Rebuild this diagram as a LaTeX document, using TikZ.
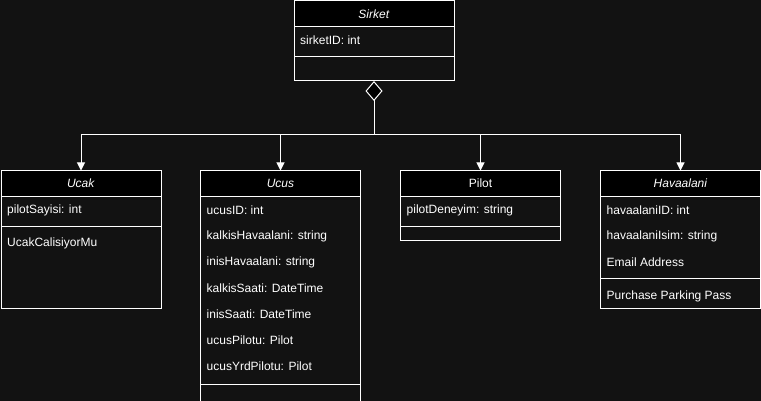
\documentclass[tikz,border=0pt]{standalone}
\usepackage{fontspec}
\setmainfont{Liberation Sans}
\usetikzlibrary{positioning,arrows.meta}
\definecolor{canvas}{HTML}{121212}

\begin{document}
\begin{tikzpicture}[
        x=1pt, y=-1pt,
        font=\fontsize{12}{14}\selectfont,
        header/.style={rectangle, draw=white, fill=black, text=white, line width=1pt, minimum width=160pt, minimum height=26pt, inner sep=0pt, outer sep=0pt},
        compart/.style={rectangle, draw=white, fill=canvas, line width=1pt, minimum width=160pt, inner sep=0pt, outer sep=0pt},
        member/.style={text=white, anchor=west, inner sep=0pt},
        link/.style={draw=white, line width=1pt, -{Triangle[width=8pt,length=8pt]}},
        agg/.style={draw=white, line width=1pt, {Diamond[fill=black,width=17pt,length=20pt]}-}
    ]
        \useasboundingbox[fill=canvas] (0,0) rectangle (761,401);

        % Nodes
        \node[header] (sirket) at (374,14) {\textit{Sirket}};
        \node[compart, minimum height=30pt, below=0pt of sirket] (sirketA) {};
        \node[compart, minimum height=24pt, below=0pt of sirketA] (sirketM) {};
        \node[member] (sirketID) at (300,40.5) {sirketID: int};

        \node[header] (ucak) at (81,183.5) {\textit{Ucak}};
        \node[compart, minimum height=30pt, below=0pt of ucak] (ucakA) {};
        \node[compart, minimum height=82pt, below=0pt of ucakA] (ucakM) {};
        \node[member] (pilotSayisi) at (7,210) {pilotSayisi: int};
        \node[member] (calisiyor) at (7,243.5) {UcakCalisiyorMu};

        \node[header] (ucus) at (280.5,183.5) {\textit{Ucus}};
        \node[compart, minimum height=188pt, below=0pt of ucus] (ucusA) {};
        \node[compart, minimum height=30pt, below=0pt of ucusA] (ucusM) {};
        \node[member] (ucusID) at (206.5,210) {ucusID: int};
        \node[member] (kalkisHav) at (206.5,236) {kalkisHavaalani: string};
        \node[member] (inisHav) at (206.5,262) {inisHavaalani: string};
        \node[member] (kalkisSaati) at (206.5,288) {kalkisSaati: DateTime};
        \node[member] (inisSaati) at (206.5,314) {inisSaati: DateTime};
        \node[member] (ucusPilotu) at (206.5,340) {ucusPilotu: Pilot};
        \node[member] (yrdPilotu) at (206.5,366) {ucusYrdPilotu: Pilot};

        \node[header] (pilot) at (480.5,183.5) {Pilot};
        \node[compart, minimum height=30pt, below=0pt of pilot] (pilotA) {};
        \node[compart, minimum height=14pt, below=0pt of pilotA] (pilotM) {};
        \node[member] (deneyim) at (406.5,210) {pilotDeneyim: string};

        \node[header] (havaalani) at (680.5,183.5) {\textit{Havaalani}};
        \node[compart, minimum height=82pt, below=0pt of havaalani] (havaalaniA) {};
        \node[compart, minimum height=30pt, below=0pt of havaalaniA] (havaalaniM) {};
        \node[member] (havaalaniID) at (606.5,210) {havaalaniID: int};
        \node[member] (havaalaniIsim) at (606.5,236) {havaalaniIsim: string};
        \node[member] (email) at (606.5,262) {Email Address};
        \node[member] (parking) at (606.5,296) {Purchase Parking Pass};

        % Arrows
        \coordinate (hub) at (374,135);
        \draw[agg] (sirketM.south) -- (hub);
        \draw[link] (hub) -| (ucak.north);
        \draw[link] (hub) -| (ucus.north);
        \draw[link] (hub) -| (pilot.north);
        \draw[link] (hub) -| (havaalani.north);

    \end{tikzpicture}
\end{document}
